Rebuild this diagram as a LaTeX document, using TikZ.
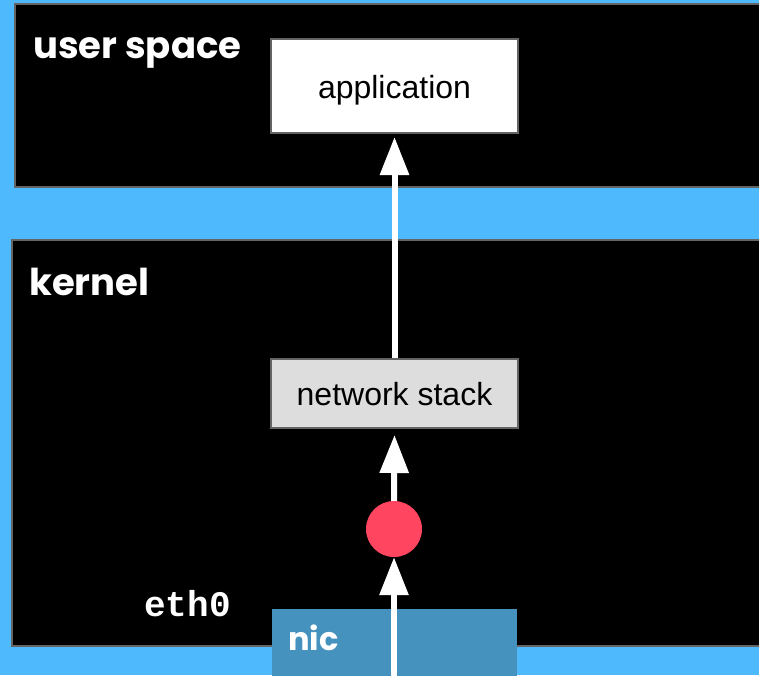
\documentclass[tikz,border=0pt]{standalone}
\usepackage{fontspec}
\setmainfont{Liberation Sans}
\newfontfamily\poppins{Poppins}[UprightFont=* Bold]
\newfontfamily\courier{Liberation Mono}[UprightFont=* Bold]
\usetikzlibrary{arrows.meta}
\definecolor{skyblue}{RGB}{78,186,253}
\definecolor{framegray}{RGB}{100,100,100}
\definecolor{stackgray}{RGB}{221,221,221}
\definecolor{nicblue}{RGB}{69,146,191}
\definecolor{packetred}{RGB}{255,69,96}
\tikzset{
  layer/.style={draw=framegray, line width=2pt, fill=black},
  layerlabel/.style={text=white, anchor=base west, inner sep=0pt, font=\poppins\fontsize{37}{42}\selectfont},
  blockbox/.style={draw=framegray, line width=2pt, minimum width=247pt, inner sep=0pt,
    text height=30pt, text depth=6pt, font=\fontsize{32}{38}\selectfont},
  flow/.style={draw=white, line width=6pt, -{Triangle[width=28pt,length=38pt]}}
}
\begin{document}
\begin{tikzpicture}[x=1pt,y=-1pt]
  \useasboundingbox (0,0) rectangle (759,675);
  \clip (0,0) rectangle (759,675);
  \fill[skyblue] (0,0) rectangle (759,675);
  % layers
  \draw[layer] (15,4) rectangle (790,187);
  \draw[layer] (12,240) rectangle (790,646);
  \node[layerlabel] (us) at (33,58) {user space};
  \node[layerlabel] (kern) at (29,295) {kernel};
  % blocks
  \node[blockbox, fill=white, minimum height=94pt] (app) at (394.5,86) {application};
  \node[blockbox, fill=stackgray, minimum height=69pt] (stack) at (394.5,393.5) {network stack};
  \fill[nicblue] (272,609) rectangle (517,690);
  \node[text=white, anchor=base west, inner sep=0pt, font=\poppins\fontsize{32}{36}\selectfont] (nic) at (288,650) {nic};
  \node[text=white, anchor=base east, inner sep=0pt, font=\courier\fontsize{36}{40}\selectfont] (eth) at (231,616) {eth0};
  \node[circle, fill=packetred, minimum size=56pt, inner sep=0pt] (pkt) at (394,529) {};
  % packet path
  \coordinate (src) at (394,690);
  \draw[flow] (src) -- (pkt.south);
  \draw[flow] (pkt.north) -- ([yshift=-6pt]stack.south);
  \draw[flow] (stack.north) -- ([yshift=-3pt]app.south);
\end{tikzpicture}
\end{document}
